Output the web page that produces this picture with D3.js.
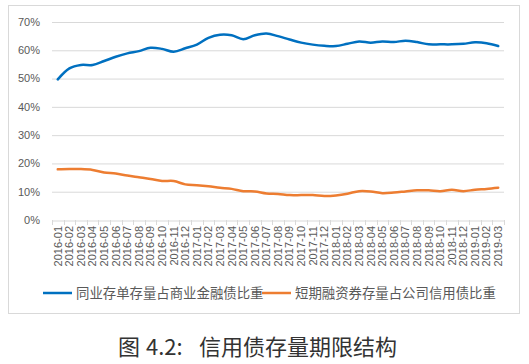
<!DOCTYPE html>
<html><head><meta charset="utf-8">
<script src="https://cdn.jsdelivr.net/npm/d3@7"></script>
<style>body{margin:0;background:#fff}svg{display:block}</style>
</head><body>
<svg id="c" width="529" height="364"></svg>
<script>
const months = [];
for (let y = 2016; y <= 2019; y++) for (let m = 1; m <= 12; m++) {
  if (y === 2019 && m > 3) break;
  months.push(y + "-" + String(m).padStart(2, "0"));
}
const seriesNames = ["同业存单存量占商业金融债比重", "短期融资券存量占公司信用债比重"];
const ncdShare = [49.7,53.6,54.8,54.8,56.2,57.7,58.9,59.7,60.9,60.5,59.5,60.7,62.0,64.4,65.5,65.3,63.9,65.3,65.9,65.0,63.8,62.7,62.0,61.6,61.5,62.3,63.1,62.7,63.1,62.9,63.4,62.9,62.1,62.1,62.1,62.3,62.8,62.5,61.5];
const cpShare = [17.9,18.0,18.0,17.7,16.8,16.4,15.7,15.1,14.5,13.8,13.8,12.6,12.3,11.9,11.4,11.0,10.2,10.1,9.4,9.2,8.8,8.8,8.8,8.5,8.7,9.3,10.2,10.1,9.5,9.7,10.1,10.5,10.5,10.2,10.7,10.2,10.7,11.0,11.4];
const yTicks = [0,10,20,30,40,50,60,70];
const colors = ["#0070C0", "#ED7D31"];
const captionParts = ["图", "4.2:", "信用债存量期限结构"];

const svg = d3.select("#c");
svg.append("rect").attr("x",8.5).attr("y",5.5).attr("width",511).attr("height",308)
  .attr("fill","#fff").attr("stroke","#d9d9d9");

const x = d3.scaleBand().domain(months).range([52, 504]);
const y = d3.scaleLinear().domain([0, 70]).range([220, 22]);

// grid
svg.append("g").selectAll("line").data(yTicks.slice(1)).join("line")
  .attr("x1",52).attr("x2",504).attr("y1",d=>y(d)+0.5).attr("y2",d=>y(d)+0.5)
  .attr("stroke","#d9d9d9").attr("stroke-width",1);

// y labels
svg.append("g").selectAll("text").data(yTicks).join("text")
  .attr("x",40).attr("y",d=>y(d)).attr("dy","0.35em").attr("text-anchor","end")
  .attr("font-family","Liberation Sans, Arial, sans-serif").attr("font-size",11).attr("fill","#595959")
  .text(d=>d+"%");

// x axis
const xAxis = d3.axisBottom(x).tickSize(0).tickSizeOuter(0);
const gx = svg.append("g").attr("transform","translate(0,220.5)").call(xAxis);
gx.select(".domain").attr("stroke","#d9d9d9");
gx.selectAll(".tick text").remove();
const bounds = months.map(m=>x(m)).concat([504]);
svg.append("g").selectAll("line").data(bounds).join("line")
  .attr("x1",d=>Math.round(d)+0.5).attr("x2",d=>Math.round(d)+0.5).attr("y1",220).attr("y2",225)
  .attr("stroke","#d9d9d9");
svg.append("g").selectAll("text").data(months).join("text")
  .attr("transform",d=>`translate(${x(d)+x.bandwidth()/2},226) rotate(-90)`)
  .attr("text-anchor","end").attr("dy","0.35em")
  .attr("font-family","Liberation Sans, Arial, sans-serif").attr("font-size",11).attr("fill","#595959")
  .text(d=>d);

// lines
const line = d3.line().x((d,i)=>x(months[i])+x.bandwidth()/2).y(d=>y(d)).curve(d3.curveCatmullRom.alpha(0.5));
[ncdShare, cpShare].forEach((s,k)=>{
  svg.append("path").attr("d",line(s)).attr("fill","none").attr("stroke",colors[k])
    .attr("stroke-width",2.5).attr("stroke-linecap","round").attr("stroke-linejoin","round");
});

// legend
const leg = [{x:43, name:seriesNames[0], c:colors[0]}, {x:262, name:seriesNames[1], c:colors[1]}];
leg.forEach(l=>{
  svg.append("line").attr("x1",l.x).attr("x2",l.x+29).attr("y1",293).attr("y2",293)
    .attr("stroke",l.c).attr("stroke-width",2.5);
  svg.append("text").attr("x",l.x+33).attr("y",293).attr("dy","0.35em")
    .attr("font-family","Noto Sans CJK SC, sans-serif").attr("font-size",13.4).attr("fill","#595959")
    .text(l.name);
});

// caption
const cap = svg.append("text").attr("y",347).attr("dy","0.35em")
  .attr("font-family","Noto Sans CJK SC, sans-serif").attr("font-size",22).attr("fill","#333");
cap.append("tspan").attr("x",118).text(captionParts[0]);
cap.append("tspan").attr("x",146).text(captionParts[1]);
cap.append("tspan").attr("x",199).text(captionParts[2]);
</script>
</body></html>
